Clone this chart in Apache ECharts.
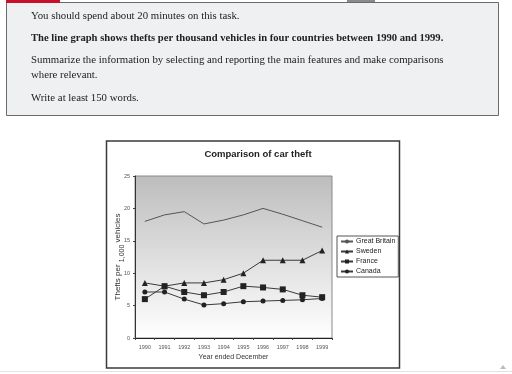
<!DOCTYPE html>
<html>
<head>
<meta charset="utf-8">
<script src="https://cdn.jsdelivr.net/npm/echarts@6/dist/echarts.min.js"></script>
<style>
html,body{margin:0;padding:0;background:#fff;}
#c{width:512px;height:374px;}
</style>
</head>
<body>
<div id="c"></div>
<script>
// ---- data ----
const years = ['1990','1991','1992','1993','1994','1995','1996','1997','1998','1999'];
const greatBritain = [18, 19, 19.5, 17.6, 18.2, 19, 20, 19.1, 18.1, 17.1];
const sweden = [8.5, 8, 8.5, 8.5, 9, 10, 12, 12, 12, 13.5];
const france = [6, 8, 7.1, 6.6, 7.1, 8, 7.8, 7.5, 6.6, 6.3];
const canada = [7.1, 7.1, 6, 5.1, 5.3, 5.6, 5.7, 5.8, 5.9, 6.1];
const seriesNames = ['Great Britain', 'Sweden', 'France', 'Canada'];
const yMin = 0, yMax = 25, yStep = 5;

const taskLines = [
  'You should spend about 20 minutes on this task.',
  'The line graph shows thefts per thousand vehicles in four countries between 1990 and 1999.',
  'Summarize the information by selecting and reporting the main features and make comparisons',
  'where relevant.',
  'Write at least 150 words.'
];
const chartTitle = 'Comparison of car theft';
const xTitle = 'Year ended December';

const chart = echarts.init(document.getElementById('c'), null, {renderer: 'canvas'});
const serif = '"Liberation Serif", "DejaVu Serif", serif';
const sans = '"Liberation Sans", Arial, sans-serif';
const taskY = [16, 38, 60, 75, 98];

const graphics = [
  {type: 'rect', shape: {x: 6.5, y: 2.5, width: 492, height: 113}, style: {fill: '#eef0f1', stroke: '#6a6a6a', lineWidth: 1}, z: 0},
  {type: 'rect', shape: {x: 6, y: 0, width: 54, height: 3}, style: {fill: '#c8102e'}, z: 1},
  {type: 'rect', shape: {x: 347, y: 0, width: 28, height: 2}, style: {fill: '#8a8a8a'}, z: 1},
  {type: 'rect', shape: {x: 106.5, y: 141, width: 293, height: 227}, style: {fill: 'none', stroke: '#3a3a3a', lineWidth: 1.5}, z: 0},
  {type: 'line', shape: {x1: 0, y1: 371.5, x2: 512, y2: 371.5}, style: {stroke: '#e2e2e2', lineWidth: 1}, z: 0},
  {type: 'polygon', shape: {points: [[500,369],[506,369],[503,365]]}, style: {fill: '#bbb'}, z: 1}
];
taskLines.forEach((t, i) => {
  graphics.push({
    type: 'text', x: 31, y: taskY[i], z: 2,
    style: {text: t, fill: '#222', font: (i === 1 ? 'bold 10.6px ' : '10.8px ') + serif, verticalAlign: 'middle', align: 'left'}
  });
});

const lineStyle = {color: '#3a3a3a', width: 1};
const option = {
  animation: false,
  backgroundColor: '#ffffff',
  graphic: graphics,
  title: {
    text: chartTitle, left: 253, top: 144, textAlign: 'center',
    textStyle: {fontFamily: sans, fontSize: 9.5, fontWeight: 'bold', color: '#222'}
  },
  grid: {
    left: 135, top: 176, width: 197, height: 162,
    show: true, borderColor: '#8a8a8a', borderWidth: 1, z: 0,
    backgroundColor: new echarts.graphic.LinearGradient(0, 0, 0, 1, [
      {offset: 0, color: '#bdbdbd'}, {offset: 1, color: '#ffffff'}
    ])
  },
  legend: {
    data: seriesNames, orient: 'vertical', left: 337, top: 236,
    itemWidth: 12, itemHeight: 5, itemGap: 3,
    padding: [2, 3, 2, 3],
    borderColor: '#555', borderWidth: 1, backgroundColor: '#fff',
    textStyle: {fontFamily: sans, fontSize: 7, color: '#222', padding: [0, 0, 0, -2]}
  },
  xAxis: {
    type: 'category', data: years, boundaryGap: true,
    name: xTitle, nameLocation: 'middle', nameGap: 16, nameMoveOverlap: false,
    nameTextStyle: {fontFamily: sans, fontSize: 7, color: '#333'},
    axisLine: {lineStyle: {color: '#222', width: 1}},
    axisTick: {show: true, length: 2, inside: false, interval: 0, lineStyle: {color: '#444'}},
    axisLabel: {fontFamily: sans, fontSize: 5.5, color: '#555', margin: 6, interval: 0}
  },
  yAxis: {
    type: 'value', min: yMin, max: yMax, interval: yStep,
    name: '{a|Thefts per }{b|1,000}{a| vehicles}', nameLocation: 'middle', nameGap: 9, nameMoveOverlap: false,
    nameTextStyle: {
      fontFamily: sans, fontSize: 8, color: '#333',
      rich: {
        a: {fontFamily: sans, fontSize: 8, color: '#333', lineHeight: 9, verticalAlign: 'top'},
        b: {fontFamily: sans, fontSize: 7, color: '#333', lineHeight: 12, verticalAlign: 'bottom'}
      }
    },
    axisLine: {show: true, lineStyle: {color: '#333', width: 1}},
    axisTick: {show: true, length: 2, lineStyle: {color: '#444'}},
    splitLine: {show: false},
    axisLabel: {fontFamily: sans, fontSize: 5.5, color: '#555', margin: 5}
  },
  series: [
    {name: seriesNames[0], type: 'line', data: greatBritain, symbol: 'none', lineStyle: {color: '#555', width: 1}, itemStyle: {color: '#555'}},
    {name: seriesNames[1], type: 'line', data: sweden, symbol: 'triangle', symbolSize: 6, lineStyle: lineStyle, itemStyle: {color: '#222'}},
    {name: seriesNames[2], type: 'line', data: france, symbol: 'rect', symbolSize: 6, lineStyle: lineStyle, itemStyle: {color: '#222'}},
    {name: seriesNames[3], type: 'line', data: canada, symbol: 'circle', symbolSize: 5, lineStyle: lineStyle, itemStyle: {color: '#222'}}
  ]
};
chart.setOption(option);
</script>
</body>
</html>
